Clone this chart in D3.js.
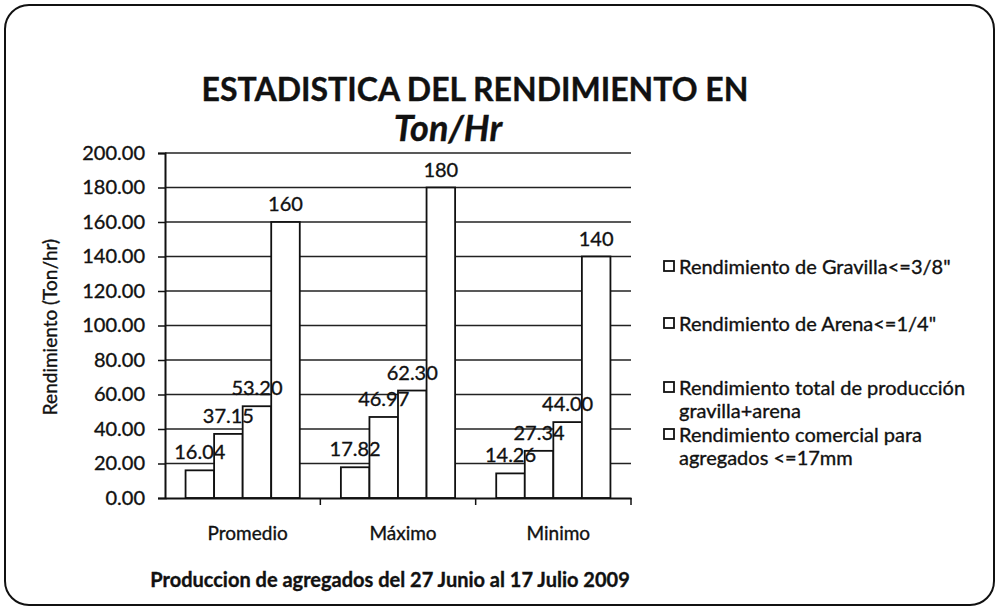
<!DOCTYPE html>
<html><head><meta charset="utf-8">
<script src="https://cdn.jsdelivr.net/npm/d3@7"></script>
<style>body{margin:0;background:#fff}svg{display:block}text{font-family:Lato,"Open Sans",sans-serif;fill:#111;stroke:#111;stroke-width:0.35px}</style>
</head><body>
<svg id="c" width="1000" height="615"></svg>
<script>
const categories = ["Promedio", "Máximo", "Minimo"];
const seriesNames = [
  "Rendimiento de Gravilla<=3/8\"",
  "Rendimiento de Arena<=1/4\"",
  "Rendimiento total de producción gravilla+arena",
  "Rendimiento comercial para agregados <=17mm"
];
const legendLines = [
  ["Rendimiento de Gravilla<=3/8\""],
  ["Rendimiento de Arena<=1/4\""],
  ["Rendimiento total de producción", "gravilla+arena"],
  ["Rendimiento comercial para", "agregados <=17mm"]
];
const gravilla  = [16.04, 17.82, 14.26];
const arena     = [37.15, 46.97, 27.34];
const total     = [53.20, 62.30, 44.00];
const comercial = [160, 180, 140];
const labelText = [
  ["16.04", "37.15", "53.20", "160"],
  ["17.82", "46.97", "62.30", "180"],
  ["14.26", "27.34", "44.00", "140"]
];
const yTicks = [0, 20, 40, 60, 80, 100, 120, 140, 160, 180, 200];

const series = [gravilla, arena, total, comercial];
const svg = d3.select("#c");

// outer border
svg.append("rect").attr("x", 5).attr("y", 5).attr("width", 989).attr("height", 600)
  .attr("rx", 24).attr("fill", "#fff").attr("stroke", "#111").attr("stroke-width", 2);

const L = 165, R = 631, T = 153, B = 498;
const x0 = d3.scaleBand().domain(categories).range([L, R]).padding(0);
const x1 = d3.scaleBand().domain(d3.range(4)).range([0, x0.bandwidth()]).paddingInner(0).paddingOuter(0.72);
const y = d3.scaleLinear().domain([0, 200]).range([B, T]);

// gridlines
svg.append("g").selectAll("line").data(yTicks.slice(1)).join("line")
  .attr("x1", L).attr("x2", R).attr("y1", d => y(d)).attr("y2", d => y(d))
  .attr("stroke", "#222").attr("stroke-width", 1.4);

// bars
const bars = [];
categories.forEach((c, i) => series.forEach((s, j) => bars.push({c, i, j, v: s[i], t: labelText[i][j]})));
svg.append("g").selectAll("rect").data(bars).join("rect")
  .attr("x", d => x0(d.c) + x1(d.j)).attr("width", x1.bandwidth())
  .attr("y", d => y(d.v)).attr("height", d => y(0) - y(d.v))
  .attr("fill", "#fff").attr("stroke", "#111").attr("stroke-width", 1.8);

// labels
svg.append("g").selectAll("text").data(bars).join("text")
  .attr("x", d => x0(d.c) + x1(d.j) + x1.bandwidth() / 2).attr("y", d => y(d.v) - 11)
  .attr("text-anchor", "middle").attr("font-size", 20).text(d => d.t);

// y axis
const ya = svg.append("g").attr("transform", `translate(${L},0)`)
  .call(d3.axisLeft(y).tickValues(yTicks).tickFormat(d3.format(".2f")).tickSize(7).tickPadding(13));
ya.select(".domain").attr("stroke", "#111").attr("stroke-width", 2);
ya.selectAll(".tick line").attr("stroke", "#111").attr("stroke-width", 1.5);
ya.selectAll("text").attr("font-size", 20).attr("font-family", "Lato").attr("fill", "#111");

// x axis
const xa = svg.append("g").attr("transform", `translate(0,${B})`)
  .call(d3.axisBottom(x0).tickSize(0).tickPadding(29));
xa.select(".domain").attr("stroke", "#111").attr("stroke-width", 2);
xa.selectAll("text").attr("font-size", 19).attr("font-family", "Lato").attr("fill", "#111").attr("dx", 5);
svg.append("g").selectAll("line").data(categories.slice(1).concat(["end"])).join("line")
  .attr("x1", d => d === "end" ? R : x0(d)).attr("x2", d => d === "end" ? R : x0(d))
  .attr("y1", B).attr("y2", B + 7).attr("stroke", "#111").attr("stroke-width", 1.5);

// titles
svg.append("text").attr("x", 475).attr("y", 101).attr("text-anchor", "middle")
  .attr("font-size", 32).attr("font-weight", "bold").text("ESTADISTICA DEL RENDIMIENTO EN");
svg.append("text").attr("x", 448).attr("y", 141).attr("text-anchor", "middle")
  .attr("font-size", 36).attr("font-weight", "bold").attr("font-style", "italic").text("Ton/Hr");
svg.append("text").attr("transform", "translate(57,327) rotate(-90)").attr("text-anchor", "middle")
  .attr("font-size", 19).text("Rendimiento (Ton/hr)");
svg.append("text").attr("x", 390).attr("y", 587).attr("text-anchor", "middle")
  .attr("font-size", 20).attr("font-weight", "bold").text("Produccion de agregados del 27 Junio al 17 Julio 2009");

// legend
const legY = [268, 325, 389, 436];
const lg = svg.append("g").selectAll("g").data(legendLines).join("g")
  .attr("transform", (d, i) => `translate(664,${legY[i]})`);
lg.append("rect").attr("x", 0).attr("y", -7).attr("width", 10).attr("height", 10)
  .attr("fill", "#fff").attr("stroke", "#111").attr("stroke-width", 1.8);
lg.selectAll("text").data(d => d).join("text")
  .attr("x", 15).attr("y", (d, k) => 6 + k * 23).attr("font-size", 20).text(d => d);
</script>
</body></html>
